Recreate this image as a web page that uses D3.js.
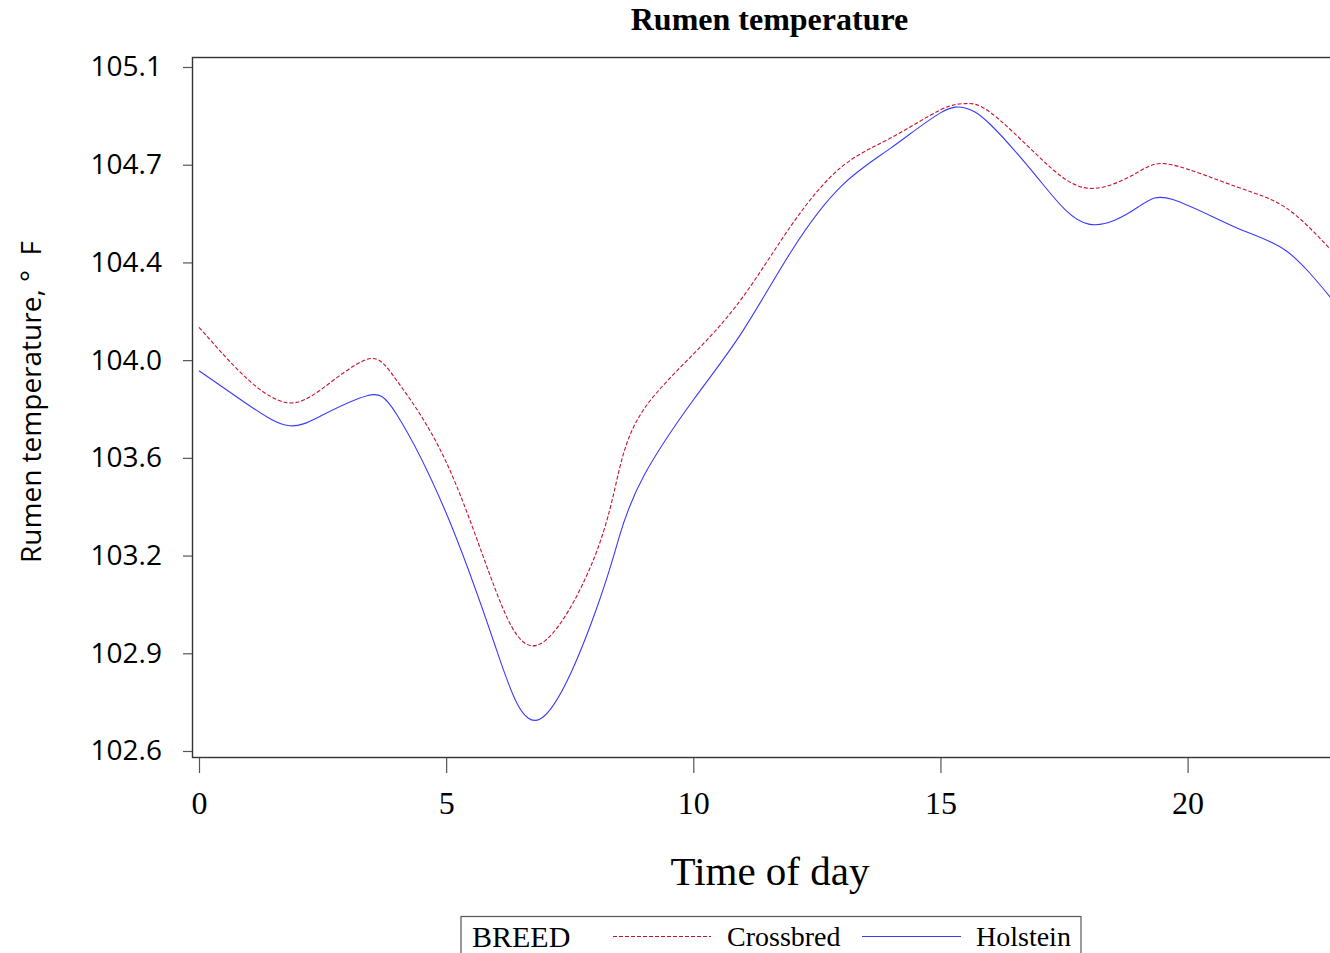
<!DOCTYPE html>
<html>
<head>
<meta charset="utf-8">
<script src="https://cdn.jsdelivr.net/npm/d3@7"></script>
<style>
  html, body { margin: 0; padding: 0; background: #fff; }
  svg { display: block; }
</style>
</head>
<body>
<div id="chart"></div>
<script>
// Hour of day at which each reading is plotted
const hours = [0, 1, 1.8, 2.5, 3.4, 4, 5, 6, 6.9, 8, 8.5, 9, 10, 11, 12, 13, 14, 15, 15.5, 16, 17, 18, 19, 19.7, 21, 22, 22.9];

// Rumen temperature (°F) by breed
const crossbred = [104.121, 103.927, 103.843, 103.896, 104.003, 103.925, 103.625, 103.153, 102.954, 103.274, 103.595, 103.819, 104.022, 104.232, 104.501, 104.712, 104.819, 104.922, 104.945, 104.914, 104.748, 104.633, 104.693, 104.719, 104.638, 104.560, 104.406];
const holstein  = [103.961, 103.835, 103.759, 103.798, 103.869, 103.800, 103.437, 102.943, 102.678, 103.063, 103.348, 103.574, 103.853, 104.107, 104.406, 104.642, 104.782, 104.911, 104.929, 104.870, 104.664, 104.501, 104.564, 104.592, 104.487, 104.402, 104.229];

// Axis ticks (y ticks sit on whole 0.2 °C steps, labelled in °F)
const xTicks = [0, 5, 10, 15, 20];
const yTicks = [102.56, 102.92, 103.28, 103.64, 104.0, 104.36, 104.72, 105.08];
const yTickLabels = ["102.6", "102.9", "103.2", "103.6", "104.0", "104.4", "104.7", "105.1"];

const seriesNames = ["Crossbred", "Holstein"];

const W = 1330, H = 953;
const frame = { left: 192.5, top: 57.5, bottom: 757.5, right: 1345 };

const svg = d3.select("#chart").append("svg")
  .attr("width", W).attr("height", H)
  .attr("viewBox", `0 0 ${W} ${H}`);

const x = d3.scaleLinear().domain([0, 20]).range([199, 1187.6]);
const y = d3.scaleLinear().domain([102.56, 105.08]).range([751, 67]);

const serif = "'Liberation Serif', 'Times New Roman', serif";
const sans = "'Open Sans', 'Liberation Sans', sans-serif";

// Title
svg.append("text")
  .attr("x", 769.5).attr("y", 30)
  .attr("text-anchor", "middle")
  .attr("font-family", serif).attr("font-weight", "bold")
  .attr("font-size", 32)
  .text("Rumen temperature");

// Plot frame
svg.append("rect")
  .attr("x", frame.left).attr("y", frame.top)
  .attr("width", frame.right - frame.left).attr("height", frame.bottom - frame.top)
  .attr("fill", "none").attr("stroke", "#333").attr("stroke-width", 1.4);

// Y axis
const yAxis = d3.axisLeft(y)
  .tickValues(yTicks)
  .tickFormat((d, i) => yTickLabels[i])
  .tickSize(9).tickPadding(21);
const gy = svg.append("g").attr("transform", `translate(${frame.left - 0.5},0)`).call(yAxis);
gy.select(".domain").remove();
gy.selectAll(".tick line").attr("stroke", "#555").attr("stroke-width", 1.2);
gy.selectAll(".tick text")
  .attr("font-family", sans).attr("font-size", 28).attr("fill", "#000");

// X axis
const xAxis = d3.axisBottom(x)
  .tickValues(xTicks)
  .tickFormat(d3.format("d"))
  .tickSize(15).tickPadding(18);
const gx = svg.append("g").attr("transform", `translate(0,${frame.bottom + 0.5})`).call(xAxis);
gx.select(".domain").remove();
gx.selectAll(".tick line").attr("stroke", "#555").attr("stroke-width", 1.2);
gx.selectAll(".tick text")
  .attr("font-family", serif).attr("font-size", 32).attr("fill", "#000");

// Axis titles
svg.append("text")
  .attr("x", 770).attr("y", 885)
  .attr("text-anchor", "middle")
  .attr("font-family", serif).attr("font-size", 41)
  .text("Time of day");

svg.append("text")
  .attr("transform", "translate(41,402) rotate(-90)")
  .attr("text-anchor", "middle")
  .attr("font-family", sans).attr("font-size", 28)
  .attr("xml:space", "preserve")
  .text("Rumen temperature, °  F");

// Curves
svg.append("clipPath").attr("id", "plot-clip")
  .append("rect")
  .attr("x", frame.left).attr("y", frame.top)
  .attr("width", frame.right - frame.left).attr("height", frame.bottom - frame.top);

const line = d3.line()
  .x(d => x(d[0]))
  .y(d => y(d[1]))
  .curve(d3.curveNatural);

const styles = {
  Crossbred: { color: "#c8102e", dash: "4,2" },
  Holstein:  { color: "#3a3aff", dash: null }
};

const seriesData = [
  { name: "Crossbred", values: hours.map((h, i) => [h, crossbred[i]]) },
  { name: "Holstein",  values: hours.map((h, i) => [h, holstein[i]]) }
];

svg.append("g").attr("clip-path", "url(#plot-clip)")
  .selectAll("path")
  .data(seriesData)
  .join("path")
  .attr("d", d => line(d.values))
  .attr("fill", "none")
  .attr("stroke", d => styles[d.name].color)
  .attr("stroke-width", 1.1)
  .attr("stroke-dasharray", d => styles[d.name].dash);

// Legend
const lg = svg.append("g");
lg.append("rect")
  .attr("x", 461).attr("y", 916.5)
  .attr("width", 620).attr("height", 60)
  .attr("fill", "#fff").attr("stroke", "#555").attr("stroke-width", 1.2);
lg.append("text")
  .attr("x", 472).attr("y", 947)
  .attr("font-family", serif).attr("font-size", 30)
  .text("BREED");

const legendItems = [
  { name: seriesNames[0], x1: 613, x2: 711, tx: 727 },
  { name: seriesNames[1], x1: 862, x2: 961, tx: 976 }
];
legendItems.forEach(it => {
  lg.append("line")
    .attr("x1", it.x1).attr("x2", it.x2)
    .attr("y1", 936.5).attr("y2", 936.5)
    .attr("stroke", styles[it.name].color)
    .attr("stroke-width", 1.1)
    .attr("stroke-dasharray", styles[it.name].dash);
  lg.append("text")
    .attr("x", it.tx).attr("y", 946)
    .attr("font-family", serif).attr("font-size", 28)
    .text(it.name);
});
</script>
</body>
</html>
